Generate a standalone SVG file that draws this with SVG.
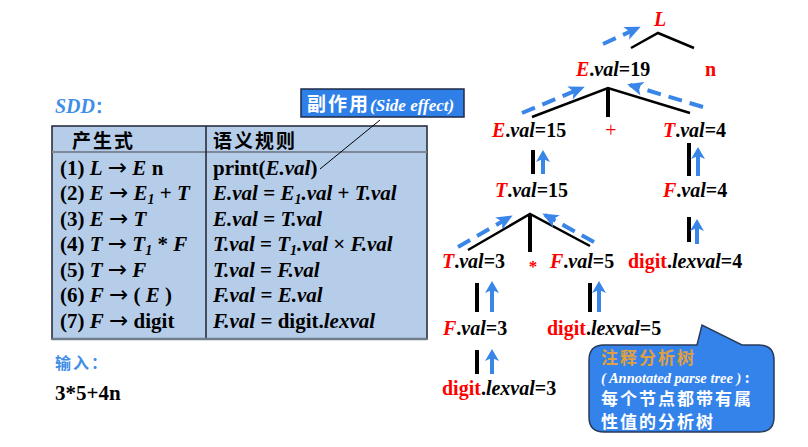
<svg xmlns="http://www.w3.org/2000/svg" width="808" height="447" viewBox="0 0 808 447">
<defs>
<style>
.t{font-family:"Liberation Serif","Times New Roman",serif;font-weight:bold;font-size:20px;fill:#000}
.tb{font-family:"Liberation Serif","Times New Roman",serif;font-weight:bold;font-size:21px;fill:#000}
.cn{font-family:"Noto Sans CJK SC",sans-serif;font-weight:bold}
.ar{font-family:"DejaVu Sans",sans-serif;font-weight:normal;font-style:normal;font-size:23px}
.r{fill:#ff0000}
.i{font-style:italic}
.br{stroke:#000;stroke-width:2.5;fill:none}
.vl{stroke:#000;stroke-width:4;fill:none}
.da{stroke:#3a86e8;stroke-width:4;stroke-dasharray:14 8;fill:none;marker-end:url(#ah)}
.ua{stroke:#3a86e8;stroke-width:4;fill:none;marker-end:url(#ah2)}
</style>
<marker id="ah" markerUnits="userSpaceOnUse" markerWidth="16" markerHeight="14" refX="13" refY="7" orient="auto">
<path d="M0,0 L16,7 L0,14 L4,7 Z" fill="#3a86e8"/>
</marker>
<marker id="ah2" markerUnits="userSpaceOnUse" markerWidth="12" markerHeight="14" refX="9" refY="7" orient="auto">
<path d="M0,0 L12,7 L0,14 L3,7 Z" fill="#3a86e8"/>
</marker>
</defs>
<rect width="808" height="447" fill="#fff"/>

<!-- Left: SDD table -->
<g id="sdd-title">
<text x="55" y="113" class="t i" style="fill:#3f8fe8;font-size:20px">SDD<tspan class="cn" style="font-style:normal;font-size:17px">：</tspan></text>
</g>
<g id="sdd-table">
<rect x="52" y="126" width="375" height="213" fill="#b6cdea" stroke="#1e2333" stroke-width="1.5"/>
<line x1="52" y1="152" x2="427" y2="152" stroke="#7d8797" stroke-width="2"/>
<line x1="206" y1="126" x2="206" y2="339" stroke="#1e2333" stroke-width="1.5"/>
<line x1="52" y1="339" x2="427" y2="339" stroke="#6f7c8c" stroke-width="2.5"/>
<text x="72" y="148" class="cn" font-size="19" letter-spacing="2" fill="#000">产生式</text>
<text x="213" y="148" class="cn" font-size="19" letter-spacing="2" fill="#000">语义规则</text>
<g class="tb">
<text x="60" y="175">(1) <tspan class="i">L</tspan> <tspan class="ar">→</tspan> <tspan class="i">E</tspan> n</text>
<text x="60" y="200">(2) <tspan class="i">E</tspan> <tspan class="ar">→</tspan> <tspan class="i">E<tspan dy="4" font-size="14">1</tspan></tspan><tspan dy="-4"> + </tspan><tspan class="i">T</tspan></text>
<text x="60" y="226">(3) <tspan class="i">E</tspan> <tspan class="ar">→</tspan> <tspan class="i">T</tspan></text>
<text x="60" y="251">(4) <tspan class="i">T</tspan> <tspan class="ar">→</tspan> <tspan class="i">T<tspan dy="4" font-size="14">1</tspan></tspan><tspan dy="-4"> * </tspan><tspan class="i">F</tspan></text>
<text x="60" y="277">(5) <tspan class="i">T</tspan> <tspan class="ar">→</tspan> <tspan class="i">F</tspan></text>
<text x="60" y="302">(6) <tspan class="i">F</tspan> <tspan class="ar">→</tspan> ( <tspan class="i">E</tspan> )</text>
<text x="60" y="328">(7) <tspan class="i">F</tspan> <tspan class="ar">→</tspan> digit</text>
<text x="213" y="175">print(<tspan class="i">E.val</tspan>)</text>
<text x="213" y="200"><tspan class="i">E.val</tspan> = <tspan class="i">E<tspan dy="4" font-size="14">1</tspan></tspan><tspan dy="-4" class="i">.val</tspan> + <tspan class="i">T.val</tspan></text>
<text x="213" y="226"><tspan class="i">E.val</tspan> = <tspan class="i">T.val</tspan></text>
<text x="213" y="251"><tspan class="i">T.val</tspan> = <tspan class="i">T<tspan dy="4" font-size="14">1</tspan></tspan><tspan dy="-4" class="i">.val</tspan>  ×  <tspan class="i">F.val</tspan></text>
<text x="213" y="277"><tspan class="i">T.val</tspan> = <tspan class="i">F.val</tspan></text>
<text x="213" y="302"><tspan class="i">F.val</tspan> = <tspan class="i">E.val</tspan></text>
<text x="213" y="328"><tspan class="i">F.val</tspan> = digit.<tspan class="i">lexval</tspan></text>
</g>
</g>
<g id="side-effect">
<rect x="301" y="89" width="163" height="28" fill="#2f7fe8" stroke="#1e2a44" stroke-width="1.5"/>
<text x="307" y="111" fill="#fff"><tspan class="cn" font-size="19" letter-spacing="2">副作用</tspan><tspan style="font-family:'Liberation Serif',serif;font-weight:bold;font-style:italic;font-size:17px">(Side effect)</tspan></text>
<line x1="380" y1="120" x2="320" y2="169" stroke="#000" stroke-width="1"/>
</g>
<g id="input">
<text x="55" y="369" class="cn" font-size="16" letter-spacing="2" fill="#3f8fe8">输入：</text>
<text x="55" y="400" class="tb">3*5+4n</text>
</g>

<!-- Tree connectors -->
<g id="connectors">
<polyline class="br" points="631,48 658,33 694,48"/>
<polyline class="br" points="532,117 608,88 690,113"/>
<line class="vl" x1="608" y1="88" x2="608" y2="117"/>
<polyline class="br" points="468,250 530,214 590,246"/>
<line class="vl" x1="530" y1="214" x2="530" y2="252"/>
<line class="vl" x1="533" y1="150" x2="533" y2="174"/>
<line class="vl" x1="689" y1="143" x2="689" y2="176"/>
<line class="vl" x1="689" y1="217" x2="689" y2="242"/>
<line class="vl" x1="477" y1="283" x2="477" y2="312"/>
<line class="vl" x1="590" y1="283" x2="590" y2="312"/>
<line class="vl" x1="477" y1="350" x2="477" y2="374"/>
<path class="da" d="M603,44 L638,28"/>
<path class="da" d="M522,113 L582,88"/>
<path class="da" d="M703,107 L630,85"/>
<path class="da" d="M458,247 L510,217"/>
<path class="da" d="M594,242 L545,215"/>
<path class="ua" d="M543,174 L543,153"/>
<path class="ua" d="M698,176 L698,150"/>
<path class="ua" d="M697,244 L697,222"/>
<path class="ua" d="M492,312 L492,284"/>
<path class="ua" d="M599,312 L599,284"/>
<path class="ua" d="M492,374 L492,352"/>
</g>

<!-- Tree nodes -->
<g id="node-L"><text x="660" y="26" class="t i r" text-anchor="middle">L</text></g>
<g id="node-n"><text x="705" y="76" class="t r">n</text></g>
<g id="node-E19"><text x="576" y="76" class="t"><tspan class="i r">E</tspan>.<tspan class="i">val</tspan>=19</text></g>
<g id="node-E15"><text x="492" y="137" class="t"><tspan class="i r">E</tspan>.<tspan class="i">val</tspan>=15</text></g>
<g id="node-plus"><text x="611" y="137" class="t r" text-anchor="middle" style="font-weight:normal">+</text></g>
<g id="node-T4"><text x="663" y="137" class="t"><tspan class="i r">T</tspan>.<tspan class="i">val</tspan>=4</text></g>
<g id="node-T15"><text x="495" y="197" class="t"><tspan class="i r">T</tspan>.<tspan class="i">val</tspan>=15</text></g>
<g id="node-F4"><text x="663" y="197" class="t"><tspan class="i r">F</tspan>.<tspan class="i">val</tspan>=4</text></g>
<g id="node-T3"><text x="442" y="268" class="t"><tspan class="i r">T</tspan>.<tspan class="i">val</tspan>=3</text></g>
<g id="node-star"><text x="533" y="272" class="t r" text-anchor="middle" style="font-size:17px">*</text></g>
<g id="node-F5"><text x="550" y="268" class="t"><tspan class="i r">F</tspan>.<tspan class="i">val</tspan>=5</text></g>
<g id="node-d4"><text x="628" y="268" class="t"><tspan class="r">digit</tspan>.<tspan class="i">lexval</tspan>=4</text></g>
<g id="node-F3"><text x="443" y="335" class="t"><tspan class="i r">F</tspan>.<tspan class="i">val</tspan>=3</text></g>
<g id="node-d5"><text x="547" y="335" class="t"><tspan class="r">digit</tspan>.<tspan class="i">lexval</tspan>=5</text></g>
<g id="node-d3"><text x="442" y="395" class="t"><tspan class="r">digit</tspan>.<tspan class="i">lexval</tspan>=3</text></g>

<!-- Callout -->
<g id="callout">
<path d="M604,345 L697,345 L702,325 L742,345 L759,345 Q774,345 774,360 L774,417 Q774,432 759,432 L604,432 Q589,432 589,417 L589,360 Q589,345 604,345 Z" fill="#3483ea" stroke="#2a3a5a" stroke-width="1.5"/>
<text x="601" y="364" class="cn" font-size="17" letter-spacing="2" fill="#e0a040">注释分析树</text>
<text x="601" y="383" fill="#fff" style="font-family:'Liberation Serif',serif;font-weight:bold;font-size:14.5px"><tspan class="i">( Annotated parse tree )</tspan><tspan class="cn"> :</tspan></text>
<text x="601" y="405" class="cn" font-size="17" letter-spacing="2" fill="#fff">每个节点都带有属</text>
<text x="601" y="428" class="cn" font-size="17" letter-spacing="2" fill="#fff">性值的分析树</text>
</g>
</svg>
